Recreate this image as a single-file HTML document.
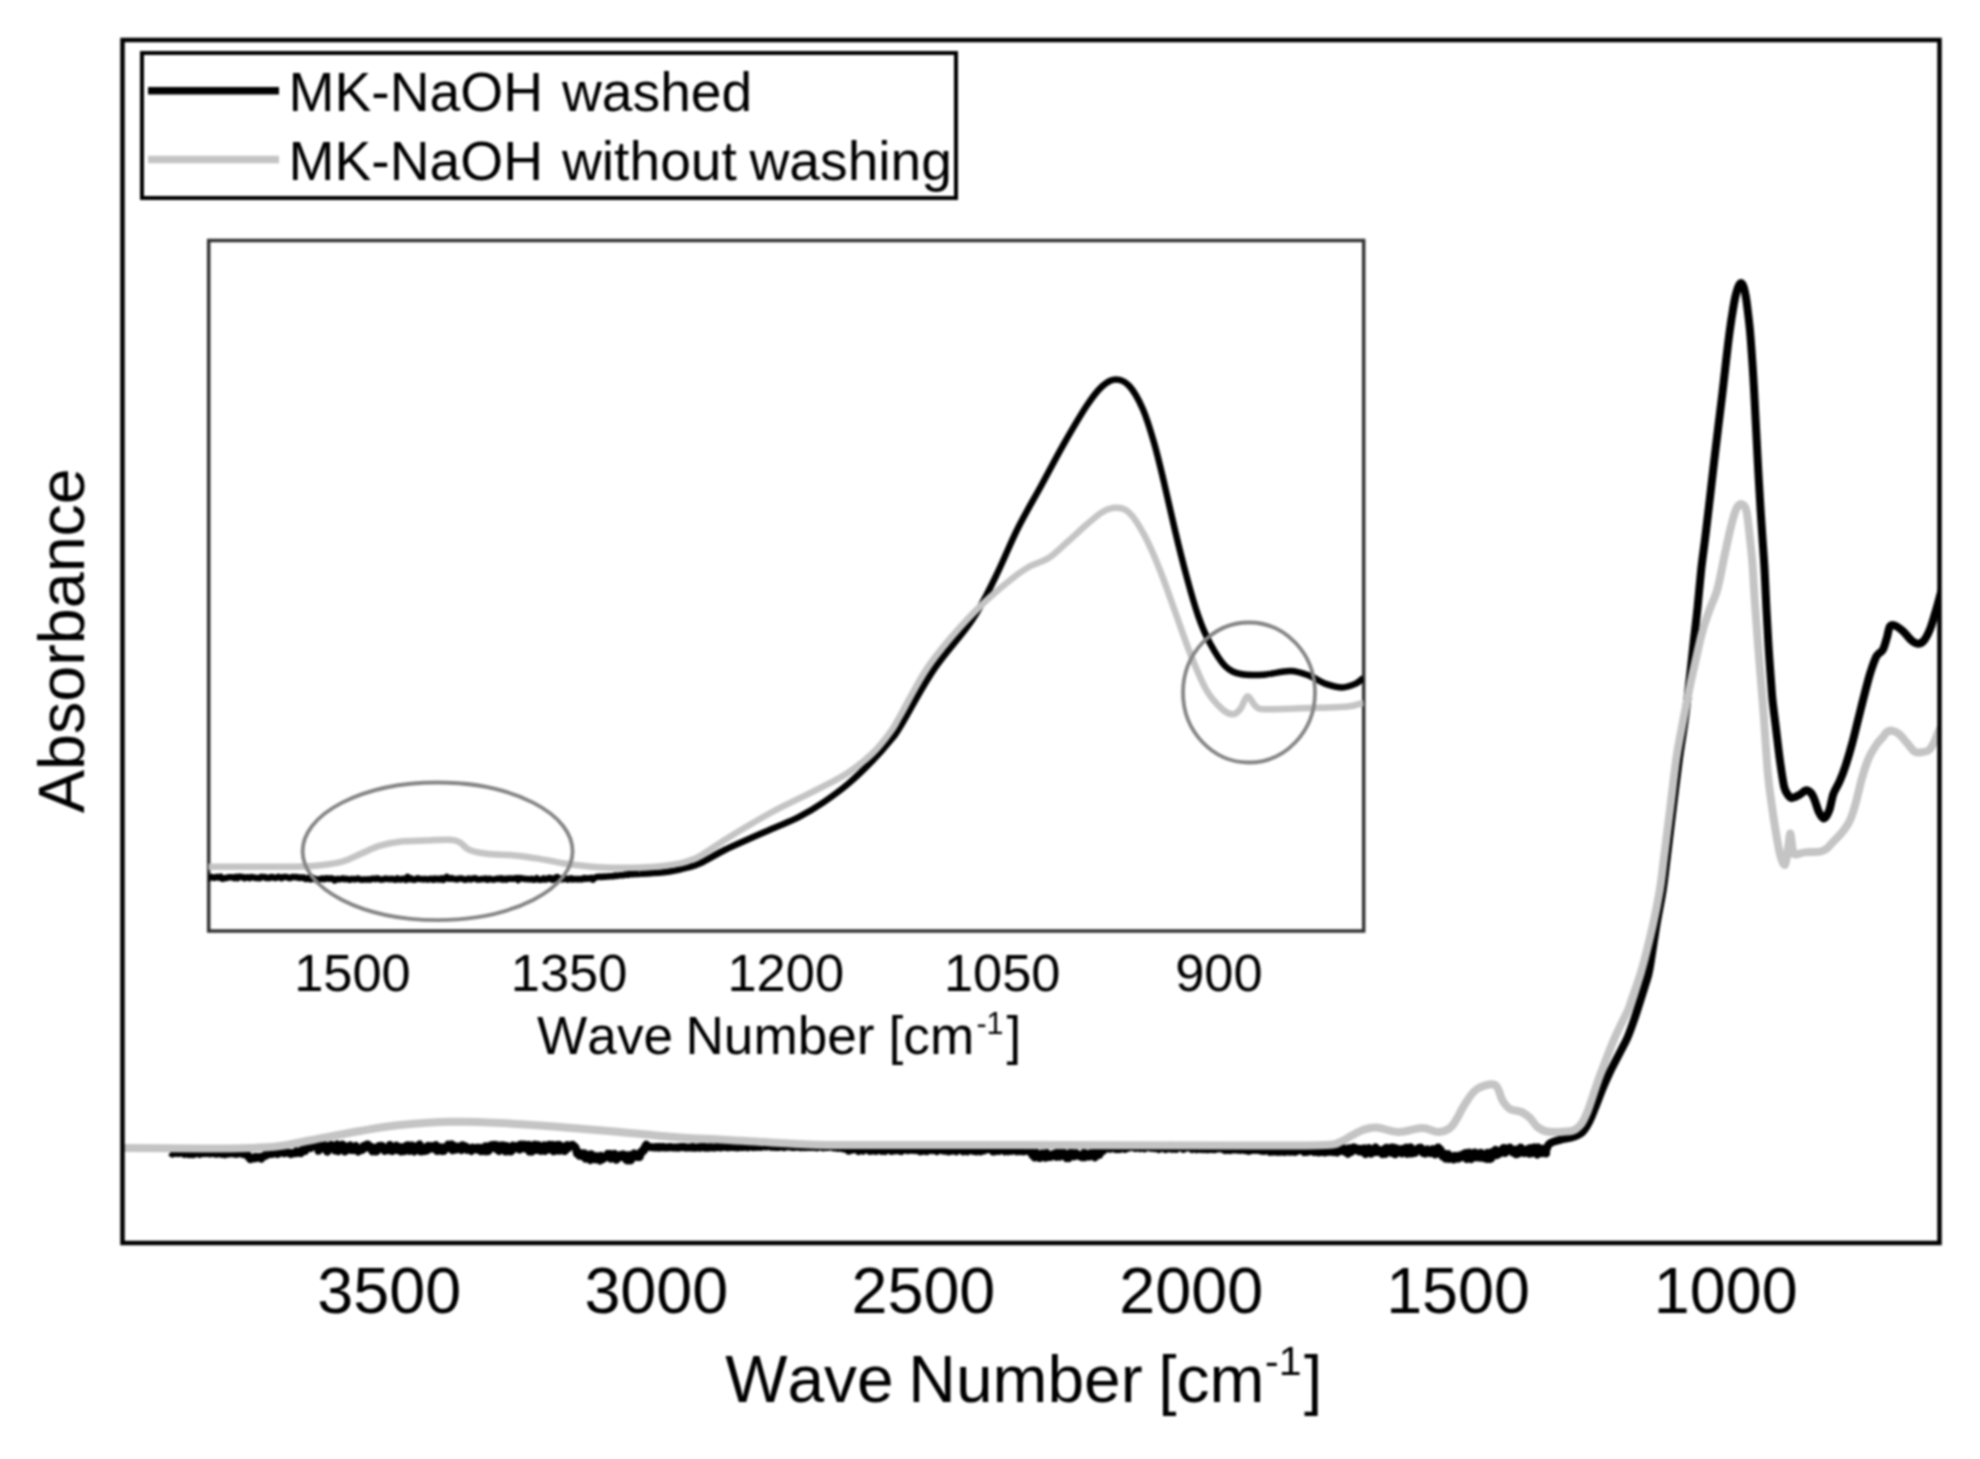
<!DOCTYPE html>
<html><head><meta charset="utf-8"><title>FTIR</title>
<style>html,body{margin:0;padding:0;background:#fff}svg{display:block;filter:blur(1px)}text{font-kerning:none;font-variant-ligatures:none}</style></head>
<body>
<svg width="1980" height="1459" viewBox="0 0 1980 1459">
<rect width="1980" height="1459" fill="#fff"/>
<defs><clipPath id="mc"><rect x="122.5" y="40" width="1817" height="1203"/></clipPath><clipPath id="ic"><rect x="208.5" y="240.5" width="1155" height="689.5"/></clipPath></defs>
<g clip-path="url(#mc)" fill="none" stroke-linejoin="round" stroke-linecap="butt">
<path d="M170.0,1152.6L171.1,1152.2L172.2,1153.4L173.3,1152.0L174.4,1153.1L175.5,1152.7L176.6,1151.9L177.7,1153.0L178.8,1151.9L179.9,1152.8L181.0,1152.0L182.1,1152.0L183.2,1152.8L184.3,1153.8L185.4,1152.1L186.5,1152.3L187.6,1153.3L188.7,1154.1L189.8,1153.2L190.9,1152.8L192.0,1154.1L193.1,1151.9L194.2,1153.9L195.3,1152.5L196.4,1152.1L197.5,1152.1L198.6,1152.5L199.7,1153.8L200.8,1152.2L201.9,1153.2L203.0,1153.3L204.1,1152.7L205.2,1153.1L206.3,1152.0L207.4,1151.9L208.5,1152.3L209.6,1153.4L210.7,1152.8L211.8,1152.6L212.9,1153.2L214.0,1152.9L215.1,1152.5L216.2,1153.7L217.3,1153.5L218.4,1152.4L219.5,1153.2L220.6,1153.1L221.7,1153.9L222.8,1153.6L223.9,1152.5L225.0,1154.2L226.1,1152.1L227.2,1152.8L228.3,1153.6L229.4,1152.2L230.5,1153.0L231.6,1151.9L232.7,1153.4L233.8,1153.6L234.9,1153.2L236.0,1153.9L237.1,1152.6L238.2,1153.5L239.3,1153.2L240.4,1153.2L241.5,1152.9L242.6,1153.8L243.7,1154.1L244.8,1152.9L245.9,1154.3L247.0,1153.9L248.1,1156.6L249.2,1157.6L250.3,1159.2L251.4,1158.8L252.5,1157.5L253.6,1157.7L254.7,1158.4L255.8,1156.9L256.9,1157.9L258.0,1157.2L259.1,1157.1L260.2,1156.9L261.3,1158.6L262.4,1156.8L263.5,1156.1L264.6,1155.6L265.7,1155.8L266.8,1153.0L267.9,1153.0L269.0,1153.1L270.1,1153.9L271.2,1153.8L272.3,1153.9L273.4,1152.5L274.5,1152.8L275.6,1152.7L276.7,1153.9L277.8,1154.1L278.9,1152.2L280.0,1152.2L281.1,1152.4L282.2,1152.4L283.3,1153.0L284.4,1153.2L285.5,1152.4L286.6,1151.8L287.7,1152.8L288.8,1152.7L289.9,1153.2L291.0,1154.1L292.1,1153.5L293.2,1153.0L294.3,1153.3L295.4,1153.3L296.5,1151.3L297.6,1152.9L298.7,1152.2L299.8,1152.0L300.9,1153.0L302.0,1149.9L303.1,1149.7L304.2,1147.4L305.3,1151.0L306.4,1146.7L307.5,1146.6L308.6,1147.4L309.7,1146.9L310.8,1147.9L311.9,1145.7L313.0,1145.1L314.1,1146.0L315.2,1145.4L316.3,1147.1L317.4,1144.6L318.5,1150.7L319.6,1148.8L320.7,1145.5L321.8,1146.2L322.9,1146.9L324.0,1147.0L325.1,1145.3L326.2,1150.5L327.3,1151.6L328.4,1147.8L329.5,1147.9L330.6,1145.0L331.7,1145.1L332.8,1146.9L333.9,1146.3L335.0,1150.4L336.1,1145.6L337.2,1144.6L338.3,1151.2L339.4,1148.2L340.5,1145.5L341.6,1148.3L342.7,1144.6L343.8,1148.2L344.9,1151.4L346.0,1150.6L347.1,1149.4L348.2,1146.3L349.3,1147.0L350.4,1145.6L351.5,1150.0L352.6,1148.2L353.7,1150.0L354.8,1146.8L355.9,1146.0L357.0,1150.2L358.1,1151.5L359.2,1150.5L360.3,1150.2L361.4,1150.3L362.5,1149.7L363.6,1146.0L364.7,1148.1L365.8,1147.0L366.9,1144.6L368.0,1144.6L369.1,1146.4L370.2,1146.3L371.3,1149.4L372.4,1151.3L373.5,1147.6L374.6,1151.1L375.7,1151.5L376.8,1151.3L377.9,1147.0L379.0,1146.0L380.1,1146.0L381.2,1145.8L382.3,1145.9L383.4,1148.9L384.5,1150.9L385.6,1150.5L386.7,1147.9L387.8,1149.1L388.9,1150.2L390.0,1145.0L391.1,1149.2L392.2,1151.0L393.3,1150.0L394.4,1149.8L395.5,1147.8L396.6,1145.7L397.7,1150.1L398.8,1146.8L399.9,1150.2L401.0,1151.4L402.1,1147.3L403.2,1147.3L404.3,1151.2L405.4,1149.6L406.5,1145.6L407.6,1145.3L408.7,1145.5L409.8,1150.9L410.9,1150.2L412.0,1145.5L413.1,1150.4L414.2,1151.5L415.3,1149.1L416.4,1146.9L417.5,1148.4L418.6,1145.3L419.7,1144.5L420.8,1151.4L421.9,1149.1L423.0,1148.2L424.1,1151.1L425.2,1147.5L426.3,1150.7L427.4,1150.3L428.5,1145.9L429.6,1146.2L430.7,1146.5L431.8,1146.1L432.9,1148.6L434.0,1146.3L435.1,1147.4L436.2,1145.3L437.3,1151.0L438.4,1146.9L439.5,1147.7L440.6,1148.6L441.7,1150.9L442.8,1147.4L443.9,1151.0L445.0,1148.0L446.1,1148.2L447.2,1148.2L448.3,1144.5L449.4,1147.6L450.5,1145.7L451.6,1144.4L452.7,1150.2L453.8,1145.6L454.9,1147.8L456.0,1149.6L457.1,1148.4L458.2,1146.7L459.3,1148.1L460.4,1148.4L461.5,1150.0L462.6,1145.2L463.7,1148.4L464.8,1146.2L465.9,1146.4L467.0,1150.0L468.1,1148.1L469.2,1148.4L470.3,1149.9L471.4,1151.0L472.5,1147.6L473.6,1148.8L474.7,1148.0L475.8,1148.1L476.9,1149.4L478.0,1147.7L479.1,1148.2L480.2,1147.8L481.3,1151.2L482.4,1149.4L483.5,1150.7L484.6,1151.2L485.7,1146.3L486.8,1148.4L487.9,1151.2L489.0,1150.4L490.1,1145.4L491.2,1145.3L492.3,1147.6L493.4,1144.9L494.5,1146.1L495.6,1144.9L496.7,1149.2L497.8,1150.0L498.9,1150.9L500.0,1145.5L501.1,1149.6L502.2,1149.2L503.3,1145.4L504.4,1150.8L505.5,1151.4L506.6,1146.0L507.7,1151.3L508.8,1147.3L509.9,1147.9L511.0,1151.5L512.1,1150.4L513.2,1145.6L514.3,1147.5L515.4,1148.1L516.5,1146.8L517.6,1145.8L518.7,1146.7L519.8,1149.6L520.9,1144.5L522.0,1148.4L523.1,1147.6L524.2,1144.5L525.3,1146.8L526.4,1148.9L527.5,1148.1L528.6,1144.9L529.7,1151.5L530.8,1150.1L531.9,1151.4L533.0,1145.2L534.1,1146.3L535.2,1144.7L536.3,1150.0L537.4,1146.3L538.5,1145.3L539.6,1147.4L540.7,1151.0L541.8,1150.3L542.9,1146.3L544.0,1145.5L545.1,1151.0L546.2,1148.5L547.3,1149.4L548.4,1145.0L549.5,1144.8L550.6,1149.4L551.7,1147.5L552.8,1144.9L553.9,1151.2L555.0,1149.0L556.1,1150.2L557.2,1145.0L558.3,1150.6L559.4,1144.9L560.5,1150.6L561.6,1147.7L562.7,1146.8L563.8,1148.4L564.9,1151.1L566.0,1146.3L567.1,1145.3L568.2,1148.2L569.3,1146.1L570.4,1145.2L571.5,1145.6L572.6,1144.8L573.7,1145.9L574.8,1146.6L575.9,1148.2L577.0,1153.5L578.1,1152.1L579.2,1155.6L580.3,1154.7L581.4,1155.9L582.5,1153.5L583.6,1155.2L584.7,1153.5L585.8,1158.7L586.9,1157.4L588.0,1154.8L589.1,1156.8L590.2,1160.1L591.3,1154.2L592.4,1159.3L593.5,1156.5L594.6,1157.0L595.7,1159.4L596.8,1156.2L597.9,1157.0L599.0,1158.4L600.1,1160.5L601.2,1155.9L602.3,1159.4L603.4,1158.5L604.5,1158.0L605.6,1156.3L606.7,1155.9L607.8,1153.8L608.9,1154.3L610.0,1153.9L611.1,1158.7L612.2,1155.2L613.3,1154.6L614.4,1154.0L615.5,1159.5L616.6,1159.7L617.7,1158.2L618.8,1155.4L619.9,1155.1L621.0,1155.5L622.1,1156.7L623.2,1154.5L624.3,1156.6L625.4,1155.3L626.5,1160.3L627.6,1160.4L628.7,1157.3L629.8,1155.2L630.9,1160.4L632.0,1155.6L633.1,1156.0L634.2,1153.4L635.3,1156.1L636.4,1156.8L637.5,1157.0L638.6,1154.8L639.7,1157.0L640.8,1152.3L641.9,1152.6L643.0,1149.8L644.1,1150.4L645.2,1146.3L646.3,1144.6L647.4,1146.8L648.5,1146.7L649.6,1147.1L650.7,1147.1L651.8,1147.3L652.9,1147.2L654.0,1147.3L655.1,1147.5L656.2,1147.0L657.3,1146.9L658.4,1147.6L659.5,1146.8L660.6,1147.4L661.7,1147.3L662.8,1146.7L663.9,1147.5L665.0,1147.6L666.1,1147.3L667.2,1147.4L668.3,1147.5L669.4,1146.9L670.5,1147.2L671.6,1147.2L672.7,1147.6L673.8,1147.6L674.9,1147.6L676.0,1147.4L677.1,1147.7L678.2,1147.5L679.3,1147.5L680.4,1147.0L681.5,1146.9L682.6,1147.0L683.7,1147.2L684.8,1147.0L685.9,1147.7L687.0,1147.4L688.1,1147.5L689.2,1147.5L690.3,1147.6L691.4,1147.4L692.5,1146.9L693.6,1147.7L694.7,1147.7L695.8,1147.5L696.9,1147.5L698.0,1147.6L699.1,1147.1L700.2,1147.7L701.3,1147.2L702.4,1147.0L703.5,1147.2L704.6,1147.7L705.7,1147.1L706.8,1147.6L707.9,1147.8L709.0,1147.3L710.1,1147.2L711.2,1147.3L712.3,1147.5L713.4,1147.5L714.5,1147.4L715.6,1147.4L716.7,1146.8L717.8,1146.9L718.9,1146.9L720.0,1147.4L721.1,1147.0L722.2,1147.2L723.3,1146.6L724.4,1146.7L725.5,1146.8L726.6,1147.2L727.7,1147.2L728.8,1147.2L729.9,1146.8L731.0,1147.0L732.1,1146.9L733.2,1146.9L734.3,1146.5L735.4,1147.3L736.5,1146.6L737.6,1147.4L738.7,1147.3L739.8,1146.4L740.9,1146.8L742.0,1147.1L743.1,1147.2L744.2,1146.7L745.3,1146.5L746.4,1146.4L747.5,1147.2L748.6,1146.4L749.7,1146.8L750.8,1146.3L751.9,1146.7L753.0,1147.1L754.1,1146.2L755.2,1146.9L756.3,1146.6L757.4,1146.9L758.5,1146.7L759.6,1146.2L760.7,1146.9L761.8,1146.5L762.9,1146.0L764.0,1146.0L765.1,1146.5L766.2,1146.5L767.3,1146.3L768.4,1146.2L769.5,1146.4L770.6,1146.4L771.7,1146.9L772.8,1146.1L773.9,1146.8L775.0,1146.9L776.1,1146.2L777.2,1147.0L778.3,1146.8L779.4,1147.0L780.5,1146.4L781.6,1146.5L782.7,1146.5L783.8,1147.2L784.9,1146.8L786.0,1146.5L787.1,1146.6L788.2,1146.5L789.3,1146.2L790.4,1146.3L791.5,1147.0L792.6,1146.5L793.7,1147.2L794.8,1146.5L795.9,1146.5L797.0,1146.8L798.1,1146.4L799.2,1146.6L800.3,1147.2L801.4,1147.2L802.5,1147.1L803.6,1146.9L804.7,1147.2L805.8,1147.2L806.9,1146.9L808.0,1147.0L809.1,1146.4L810.2,1147.1L811.3,1146.8L812.4,1147.1L813.5,1147.0L814.6,1146.6L815.7,1146.4L816.8,1147.3L817.9,1146.5L819.0,1146.9L820.1,1146.7L821.2,1146.7L822.3,1147.1L823.4,1147.4L824.5,1146.7L825.6,1147.1L826.7,1146.7L827.8,1147.0L828.9,1146.8L830.0,1146.6L831.1,1146.6L832.2,1146.7L833.3,1147.4L834.4,1147.0L835.5,1146.7L836.6,1147.6L837.7,1148.0L838.8,1147.7L839.9,1147.7L841.0,1147.4L842.1,1147.4L843.2,1148.5L844.3,1148.0L845.4,1148.7L846.5,1148.7L847.6,1149.7L848.7,1150.7L849.8,1150.3L850.9,1149.2L852.0,1149.2L853.1,1149.6L854.2,1149.1L855.3,1149.0L856.4,1148.1L857.5,1148.8L858.6,1151.0L859.7,1148.3L860.8,1149.6L861.9,1150.0L863.0,1150.7L864.1,1148.6L865.2,1148.8L866.3,1148.8L867.4,1149.2L868.5,1149.4L869.6,1151.0L870.7,1150.7L871.8,1150.8L872.9,1148.0L874.0,1148.1L875.1,1150.3L876.2,1150.9L877.3,1149.5L878.4,1149.9L879.5,1148.0L880.6,1149.2L881.7,1151.0L882.8,1150.6L883.9,1150.7L885.0,1151.1L886.1,1148.8L887.2,1148.4L888.3,1148.5L889.4,1149.7L890.5,1150.2L891.6,1151.0L892.7,1150.3L893.8,1150.1L894.9,1150.5L896.0,1149.5L897.1,1149.8L898.2,1148.2L899.3,1150.6L900.4,1148.8L901.5,1151.0L902.6,1150.1L903.7,1149.0L904.8,1148.5L905.9,1148.9L907.0,1150.1L908.1,1150.3L909.2,1148.4L910.3,1148.3L911.4,1149.8L912.5,1149.9L913.6,1149.3L914.7,1148.8L915.8,1150.0L916.9,1148.1L918.0,1149.1L919.1,1149.6L920.2,1151.2L921.3,1150.2L922.4,1150.9L923.5,1149.6L924.6,1148.9L925.7,1148.9L926.8,1151.2L927.9,1150.4L929.0,1149.1L930.1,1148.2L931.2,1149.7L932.3,1150.3L933.4,1149.5L934.5,1149.0L935.6,1150.3L936.7,1151.1L937.8,1148.9L938.9,1148.3L940.0,1149.2L941.1,1149.5L942.2,1150.3L943.3,1148.8L944.4,1150.7L945.5,1150.5L946.6,1149.8L947.7,1148.8L948.8,1151.3L949.9,1149.2L951.0,1150.8L952.1,1148.9L953.2,1148.9L954.3,1150.6L955.4,1149.1L956.5,1151.2L957.6,1149.8L958.7,1148.8L959.8,1148.9L960.9,1149.5L962.0,1150.3L963.1,1151.3L964.2,1148.7L965.3,1149.5L966.4,1148.9L967.5,1151.3L968.6,1148.7L969.7,1148.4L970.8,1148.4L971.9,1149.5L973.0,1151.1L974.1,1151.1L975.2,1150.6L976.3,1151.4L977.4,1151.2L978.5,1149.3L979.6,1148.9L980.7,1151.3L981.8,1150.7L982.9,1148.4L984.0,1150.4L985.1,1149.5L986.2,1149.5L987.3,1149.3L988.4,1148.8L989.5,1148.3L990.6,1149.2L991.7,1149.4L992.8,1151.4L993.9,1148.7L995.0,1151.4L996.1,1149.0L997.2,1149.5L998.3,1150.9L999.4,1150.9L1000.5,1149.7L1001.6,1148.5L1002.7,1149.8L1003.8,1149.5L1004.9,1151.3L1006.0,1149.0L1007.1,1149.5L1008.2,1151.2L1009.3,1148.4L1010.4,1149.7L1011.5,1150.9L1012.6,1150.8L1013.7,1148.5L1014.8,1148.5L1015.9,1148.6L1017.0,1151.3L1018.1,1149.2L1019.2,1150.8L1020.3,1151.2L1021.4,1149.5L1022.5,1149.3L1023.6,1151.4L1024.7,1150.4L1025.8,1149.2L1026.9,1150.7L1028.0,1149.4L1029.1,1149.3L1030.2,1147.0L1031.3,1152.9L1032.4,1155.1L1033.5,1154.4L1034.6,1157.4L1035.7,1152.0L1036.8,1153.3L1037.9,1154.8L1039.0,1157.9L1040.1,1157.9L1041.2,1154.3L1042.3,1153.4L1043.4,1154.6L1044.5,1155.0L1045.6,1157.7L1046.7,1153.0L1047.8,1156.9L1048.9,1156.5L1050.0,1157.1L1051.1,1156.7L1052.2,1155.7L1053.3,1153.9L1054.4,1153.8L1055.5,1154.1L1056.6,1156.8L1057.7,1152.3L1058.8,1153.1L1059.9,1156.6L1061.0,1153.4L1062.1,1152.2L1063.2,1152.0L1064.3,1155.3L1065.4,1153.9L1066.5,1158.1L1067.6,1157.5L1068.7,1158.1L1069.8,1153.5L1070.9,1152.3L1072.0,1152.4L1073.1,1155.0L1074.2,1156.3L1075.3,1154.7L1076.4,1153.3L1077.5,1154.5L1078.6,1155.8L1079.7,1156.1L1080.8,1156.6L1081.9,1157.2L1083.0,1156.1L1084.1,1152.6L1085.2,1157.2L1086.3,1153.7L1087.4,1155.4L1088.5,1154.2L1089.6,1156.5L1090.7,1153.1L1091.8,1153.4L1092.9,1153.4L1094.0,1152.8L1095.1,1157.4L1096.2,1154.6L1097.3,1152.2L1098.4,1151.8L1099.5,1154.8L1100.6,1150.8L1101.7,1148.3L1102.8,1151.1L1103.9,1149.3L1105.0,1149.1L1106.1,1146.2L1107.2,1147.4L1108.3,1148.5L1109.4,1148.6L1110.5,1148.8L1111.6,1146.0L1112.7,1146.8L1113.8,1146.3L1114.9,1146.5L1116.0,1149.0L1117.1,1147.8L1118.2,1148.9L1119.3,1147.1L1120.4,1148.7L1121.5,1147.3L1122.6,1146.7L1123.7,1148.4L1124.8,1148.9L1125.9,1146.2L1127.0,1147.8L1128.1,1147.9L1129.2,1146.6L1130.3,1147.1L1131.4,1146.4L1132.5,1146.6L1133.6,1146.7L1134.7,1147.8L1135.8,1148.0L1136.9,1146.6L1138.0,1145.9L1139.1,1146.9L1140.2,1148.1L1141.3,1146.5L1142.4,1146.9L1143.5,1146.6L1144.6,1148.4L1145.7,1147.7L1146.8,1146.1L1147.9,1146.2L1149.0,1147.2L1150.1,1147.7L1151.2,1147.9L1152.3,1146.2L1153.4,1146.4L1154.5,1148.1L1155.6,1147.2L1156.7,1146.8L1157.8,1146.9L1158.9,1149.0L1160.0,1146.9L1161.1,1147.7L1162.2,1147.0L1163.3,1147.2L1164.4,1148.7L1165.5,1149.1L1166.6,1147.1L1167.7,1146.5L1168.8,1148.2L1169.9,1146.6L1171.0,1145.9L1172.1,1148.8L1173.2,1147.3L1174.3,1148.5L1175.4,1147.2L1176.5,1148.7L1177.6,1147.4L1178.7,1146.4L1179.8,1145.9L1180.9,1147.7L1182.0,1148.0L1183.1,1148.8L1184.2,1146.2L1185.3,1147.9L1186.4,1147.1L1187.5,1147.5L1188.6,1146.4L1189.7,1146.8L1190.8,1147.6L1191.9,1148.9L1193.0,1146.2L1194.1,1147.5L1195.2,1148.5L1196.3,1149.0L1197.4,1146.5L1198.5,1146.3L1199.6,1148.9L1200.7,1149.1L1201.8,1147.5L1202.9,1146.2L1204.0,1149.1L1205.1,1147.4L1206.2,1149.1L1207.3,1148.3L1208.4,1149.0L1209.5,1146.9L1210.6,1148.9L1211.7,1147.2L1212.8,1147.8L1213.9,1149.3L1215.0,1149.3L1216.1,1147.3L1217.2,1147.5L1218.3,1148.1L1219.4,1148.5L1220.5,1148.2L1221.6,1147.4L1222.7,1147.8L1223.8,1149.4L1224.9,1150.0L1226.0,1147.3L1227.1,1149.1L1228.2,1149.7L1229.3,1147.5L1230.4,1150.1L1231.5,1147.9L1232.6,1149.4L1233.7,1149.3L1234.8,1149.6L1235.9,1148.7L1237.0,1149.1L1238.1,1149.7L1239.2,1149.2L1240.3,1150.0L1241.4,1149.4L1242.5,1149.4L1243.6,1148.2L1244.7,1150.1L1245.8,1149.8L1246.9,1149.0L1248.0,1150.7L1249.1,1150.9L1250.2,1149.9L1251.3,1149.0L1252.4,1149.9L1253.5,1148.8L1254.6,1148.9L1255.7,1149.8L1256.8,1148.8L1257.9,1149.9L1259.0,1150.1L1260.1,1148.6L1261.2,1150.6L1262.3,1148.8L1263.4,1150.9L1264.5,1151.0L1265.6,1150.2L1266.7,1148.8L1267.8,1150.2L1268.9,1149.8L1270.0,1151.7L1271.1,1149.1L1272.2,1151.4L1273.3,1151.8L1274.4,1151.0L1275.5,1151.3L1276.6,1149.3L1277.7,1151.8L1278.8,1150.3L1279.9,1151.8L1281.0,1151.7L1282.1,1149.3L1283.2,1151.3L1284.3,1151.8L1285.4,1149.0L1286.5,1149.9L1287.6,1151.2L1288.7,1149.3L1289.8,1151.7L1290.9,1149.7L1292.0,1151.5L1293.1,1149.3L1294.2,1150.5L1295.3,1151.8L1296.4,1149.6L1297.5,1149.8L1298.6,1150.6L1299.7,1150.0L1300.8,1149.1L1301.9,1149.6L1303.0,1149.5L1304.1,1152.0L1305.2,1151.2L1306.3,1151.9L1307.4,1149.6L1308.5,1151.6L1309.6,1149.4L1310.7,1150.8L1311.8,1151.1L1312.9,1150.3L1314.0,1151.9L1315.1,1150.9L1316.2,1151.0L1317.3,1152.0L1318.4,1149.5L1319.5,1152.3L1320.6,1151.2L1321.7,1150.5L1322.8,1151.8L1323.9,1150.1L1325.0,1152.4L1326.1,1151.1L1327.2,1150.4L1328.3,1151.7L1329.4,1150.7L1330.5,1149.9L1331.6,1151.7L1332.7,1149.5L1333.8,1152.0L1334.9,1150.2L1336.0,1151.4L1337.1,1152.5L1338.2,1151.3L1339.3,1151.5L1340.4,1149.7L1341.5,1147.4L1342.6,1147.6L1343.7,1148.5L1344.8,1151.8L1345.9,1150.5L1347.0,1151.1L1348.1,1153.8L1349.2,1148.4L1350.3,1149.0L1351.4,1152.1L1352.5,1147.6L1353.6,1147.4L1354.7,1150.0L1355.8,1148.2L1356.9,1150.0L1358.0,1149.0L1359.1,1151.6L1360.2,1151.6L1361.3,1148.9L1362.4,1151.9L1363.5,1150.8L1364.6,1148.4L1365.7,1154.1L1366.8,1149.2L1367.9,1148.5L1369.0,1148.1L1370.1,1152.0L1371.2,1153.7L1372.3,1153.0L1373.4,1150.3L1374.5,1149.3L1375.6,1147.5L1376.7,1152.0L1377.8,1151.4L1378.9,1149.9L1380.0,1152.0L1381.1,1150.6L1382.2,1154.1L1383.3,1152.7L1384.4,1149.2L1385.5,1153.9L1386.6,1147.7L1387.7,1151.2L1388.8,1150.3L1389.9,1149.1L1391.0,1147.8L1392.1,1153.0L1393.2,1147.5L1394.3,1151.4L1395.4,1154.2L1396.5,1148.4L1397.6,1148.8L1398.7,1151.8L1399.8,1151.1L1400.9,1152.0L1402.0,1153.3L1403.1,1148.7L1404.2,1149.6L1405.3,1149.6L1406.4,1147.7L1407.5,1153.8L1408.6,1153.0L1409.7,1152.6L1410.8,1147.4L1411.9,1153.5L1413.0,1152.8L1414.1,1150.7L1415.2,1152.7L1416.3,1150.7L1417.4,1149.0L1418.5,1148.2L1419.6,1149.1L1420.7,1147.7L1421.8,1149.8L1422.9,1152.8L1424.0,1152.4L1425.1,1153.5L1426.2,1152.5L1427.3,1149.3L1428.4,1151.4L1429.5,1150.5L1430.6,1153.1L1431.7,1151.2L1432.8,1149.3L1433.9,1152.0L1435.0,1154.3L1436.1,1149.0L1437.2,1153.7L1438.3,1147.5L1439.4,1149.3L1440.5,1149.5L1441.6,1154.1L1442.7,1156.5L1443.8,1155.9L1444.9,1153.8L1446.0,1158.7L1447.1,1154.8L1448.2,1154.1L1449.3,1158.9L1450.4,1156.9L1451.5,1157.4L1452.6,1157.2L1453.7,1159.4L1454.8,1155.8L1455.9,1158.4L1457.0,1157.4L1458.1,1158.6L1459.2,1155.5L1460.3,1157.6L1461.4,1156.5L1462.5,1154.6L1463.6,1153.9L1464.7,1156.9L1465.8,1153.0L1466.9,1159.0L1468.0,1153.4L1469.1,1152.6L1470.2,1153.2L1471.3,1159.1L1472.4,1154.9L1473.5,1153.4L1474.6,1152.6L1475.7,1152.7L1476.8,1157.4L1477.9,1157.0L1479.0,1157.4L1480.1,1157.7L1481.2,1152.9L1482.3,1156.7L1483.4,1155.0L1484.5,1158.3L1485.6,1158.3L1486.7,1158.8L1487.8,1152.9L1488.9,1158.6L1490.0,1159.0L1491.1,1158.6L1492.2,1152.1L1493.3,1152.2L1494.4,1151.0L1495.5,1149.9L1496.6,1155.2L1497.7,1154.4L1498.8,1152.6L1499.9,1153.4L1501.0,1151.9L1502.1,1149.5L1503.2,1148.1L1504.3,1148.1L1505.4,1152.9L1506.5,1148.9L1507.6,1149.7L1508.7,1150.5L1509.8,1147.6L1510.9,1149.2L1512.0,1149.4L1513.1,1152.6L1514.2,1150.0L1515.3,1149.7L1516.4,1154.3L1517.5,1151.0L1518.6,1153.5L1519.7,1151.9L1520.8,1147.6L1521.9,1150.4L1523.0,1150.5L1524.1,1153.0L1525.2,1149.9L1526.3,1152.5L1527.4,1151.3L1528.5,1149.0L1529.6,1153.6L1530.7,1148.1L1531.8,1153.3L1532.9,1148.6L1534.0,1147.4L1535.1,1148.9L1536.2,1152.9L1537.3,1154.4L1538.4,1147.4L1539.5,1150.9L1540.6,1150.9L1541.7,1153.1L1542.8,1148.7L1543.9,1151.0L1545.0,1149.9L1546.1,1153.4L1546.0,1151.0" stroke="#000" stroke-width="8.0"/>
<path d="M1546.0,1151.0C1546.6,1149.8 1547.2,1145.5 1549.6,1143.6C1552.0,1141.7 1556.2,1140.9 1560.2,1139.8C1564.2,1138.7 1569.9,1138.2 1573.7,1136.8C1577.5,1135.4 1580.2,1134.2 1582.8,1131.6C1585.4,1129.0 1587.6,1124.9 1589.6,1121.0C1591.6,1117.1 1592.9,1113.2 1595.0,1108.0C1597.1,1102.8 1599.8,1095.5 1602.0,1090.0C1604.2,1084.5 1606.3,1079.7 1608.5,1075.0C1610.7,1070.3 1612.8,1066.2 1615.0,1062.0C1617.2,1057.8 1619.4,1053.6 1621.5,1049.5C1623.6,1045.4 1625.4,1042.4 1627.5,1037.5C1629.6,1032.6 1631.9,1026.1 1634.0,1020.0C1636.1,1013.9 1638.3,1007.0 1640.2,1001.0C1642.1,995.0 1644.0,989.3 1645.5,984.0C1647.0,978.7 1647.7,978.9 1649.5,969.0C1651.3,959.1 1654.3,937.8 1656.5,924.6C1658.7,911.4 1661.0,901.4 1662.7,890.0C1664.5,878.6 1665.3,869.7 1667.0,856.0C1668.7,842.3 1670.8,824.0 1672.8,808.0C1674.8,792.0 1677.1,772.7 1678.8,760.0C1680.5,747.3 1681.6,741.6 1683.0,732.0C1684.4,722.4 1685.8,712.4 1687.0,702.4C1688.2,692.4 1689.3,682.4 1690.5,672.0C1691.7,661.6 1692.7,650.6 1693.9,640.0C1695.1,629.4 1696.3,619.7 1697.5,608.1C1698.7,596.5 1699.9,581.8 1701.1,570.5C1702.3,559.2 1703.6,551.0 1704.9,540.3C1706.2,529.5 1707.4,519.4 1709.0,506.0C1710.6,492.6 1712.0,478.9 1714.3,460.0C1716.5,441.1 1720.5,409.1 1722.5,392.4C1724.5,375.7 1725.0,370.1 1726.2,360.0C1727.4,349.9 1728.5,340.0 1729.6,332.0C1730.7,324.0 1731.6,317.8 1732.6,312.0C1733.5,306.2 1734.4,301.0 1735.3,297.0C1736.2,293.0 1737.1,290.1 1737.8,288.0C1738.5,285.9 1739.0,285.1 1739.5,284.3C1740.0,283.5 1740.5,283.0 1741.0,283.0C1741.5,283.0 1742.0,283.5 1742.5,284.3C1743.0,285.1 1743.4,285.9 1744.0,288.0C1744.6,290.1 1745.2,293.0 1745.9,297.0C1746.6,301.0 1747.2,306.2 1747.9,312.0C1748.6,317.8 1749.4,324.0 1750.1,332.0C1750.8,340.0 1751.5,349.9 1752.2,360.0C1752.9,370.1 1753.3,375.7 1754.2,392.4C1755.1,409.1 1756.9,445.4 1757.7,460.0C1758.5,474.6 1758.3,471.6 1758.8,480.0C1759.3,488.4 1760.0,500.1 1760.6,510.2C1761.2,520.2 1761.9,530.2 1762.6,540.3C1763.3,550.3 1764.0,559.2 1764.6,570.5C1765.2,581.8 1765.8,595.6 1766.4,608.1C1767.1,620.6 1767.7,633.2 1768.5,645.8C1769.3,658.4 1770.5,674.5 1771.2,683.5C1771.9,692.5 1771.8,693.2 1772.5,700.0C1773.2,706.8 1774.2,714.2 1775.5,724.4C1776.8,734.6 1778.5,750.6 1780.0,761.0C1781.5,771.4 1782.8,781.2 1784.2,787.0C1785.6,792.8 1787.2,793.8 1788.5,795.6C1789.8,797.4 1790.2,798.0 1792.0,797.9C1793.8,797.8 1797.0,796.1 1799.5,794.8C1802.0,793.5 1804.5,790.1 1806.7,790.3C1808.9,790.5 1810.9,792.1 1812.9,795.8C1815.0,799.5 1817.1,808.5 1819.0,812.3C1820.9,816.1 1822.5,818.8 1824.2,818.4C1825.9,818.0 1827.8,814.3 1829.3,810.2C1830.8,806.1 1831.7,798.6 1833.4,793.8C1835.1,789.0 1837.5,786.2 1839.6,781.4C1841.7,776.6 1843.8,771.2 1845.8,765.0C1847.8,758.8 1849.9,751.9 1851.9,744.4C1854.0,736.9 1856.0,728.0 1858.1,719.8C1860.2,711.6 1862.2,703.0 1864.3,695.1C1866.3,687.2 1868.4,679.0 1870.4,672.5C1872.5,666.0 1874.5,659.8 1876.6,656.0C1878.7,652.2 1881.1,653.0 1882.8,649.9C1884.5,646.8 1885.7,641.5 1886.9,637.6C1888.1,633.7 1888.6,628.2 1890.0,626.2C1891.4,624.2 1892.9,624.7 1895.1,625.6C1897.3,626.5 1900.5,628.9 1903.3,631.4C1906.0,633.9 1909.2,638.5 1911.6,640.6C1914.0,642.7 1915.7,643.7 1917.7,643.7C1919.8,643.7 1921.9,643.0 1923.9,640.6C1926.0,638.2 1928.1,633.9 1930.0,629.3C1931.9,624.7 1933.7,618.0 1935.2,612.9C1936.8,607.8 1938.2,602.5 1939.3,598.5C1940.4,594.5 1941.5,590.6 1942.0,589.0" stroke="#000" stroke-width="8.0"/>
<path d="M120.0,1148.0C133.3,1148.1 178.3,1148.5 200.0,1148.5C221.7,1148.5 236.7,1148.4 250.0,1148.0C263.3,1147.6 269.7,1147.3 280.0,1146.0C290.3,1144.7 298.7,1142.5 312.0,1140.0C325.3,1137.5 345.3,1133.5 360.0,1131.0C374.7,1128.5 384.5,1126.5 400.0,1125.0C415.5,1123.5 436.3,1122.1 453.0,1121.8C469.7,1121.5 482.2,1122.1 500.0,1123.0C517.8,1123.9 540.0,1125.5 560.0,1127.0C580.0,1128.5 600.0,1130.2 620.0,1132.0C640.0,1133.8 663.3,1136.2 680.0,1137.5C696.7,1138.8 703.3,1138.6 720.0,1139.5C736.7,1140.4 760.0,1142.1 780.0,1143.0C800.0,1143.9 803.3,1144.7 840.0,1145.0C876.7,1145.3 931.7,1144.9 1000.0,1145.0C1068.3,1145.1 1195.8,1145.5 1250.0,1145.5C1304.2,1145.5 1310.0,1145.6 1325.0,1145.0C1340.0,1144.4 1335.7,1143.5 1340.0,1142.0C1344.3,1140.5 1347.2,1138.0 1351.0,1136.0C1354.8,1134.0 1358.8,1131.4 1363.0,1130.0C1367.2,1128.6 1370.0,1127.2 1376.0,1127.5C1382.0,1127.8 1391.3,1131.9 1399.0,1132.0C1406.7,1132.1 1415.3,1128.0 1422.0,1128.0C1428.7,1128.0 1434.0,1132.3 1439.0,1132.0C1444.0,1131.7 1447.7,1130.7 1452.0,1126.0C1456.3,1121.3 1460.8,1110.2 1465.0,1104.0C1469.2,1097.8 1472.0,1092.2 1477.0,1089.0C1482.0,1085.8 1490.8,1083.1 1495.0,1085.0C1499.2,1086.9 1500.0,1096.5 1502.5,1100.5C1505.0,1104.5 1506.8,1107.1 1510.0,1109.0C1513.2,1110.9 1518.2,1110.5 1521.5,1112.0C1524.8,1113.5 1527.3,1115.5 1530.0,1118.0C1532.7,1120.5 1534.7,1124.8 1537.5,1127.0C1540.3,1129.2 1542.8,1130.7 1546.6,1131.5C1550.4,1132.3 1555.7,1132.1 1560.2,1131.9C1564.7,1131.7 1570.2,1131.6 1573.7,1130.3C1577.2,1129.0 1579.2,1126.5 1581.3,1124.0C1583.3,1121.5 1584.7,1117.8 1586.0,1115.0C1587.3,1112.2 1586.9,1113.6 1589.2,1107.0C1591.5,1100.4 1595.7,1087.0 1600.0,1075.4C1604.3,1063.9 1610.1,1048.6 1614.8,1037.7C1619.5,1026.8 1625.2,1016.3 1628.0,1010.0C1630.8,1003.7 1629.2,1006.8 1631.5,1000.0C1633.8,993.2 1638.3,981.6 1641.9,969.0C1645.5,956.4 1650.0,937.8 1653.0,924.6C1656.0,911.4 1657.9,901.4 1659.8,890.0C1661.7,878.6 1662.5,869.7 1664.2,856.0C1665.9,842.3 1668.2,824.0 1670.2,808.0C1672.2,792.0 1674.3,772.7 1676.1,760.0C1677.9,747.3 1679.2,741.6 1681.0,732.0C1682.8,722.4 1685.0,710.9 1686.7,702.4C1688.4,693.9 1689.5,687.9 1691.0,681.0C1692.5,674.1 1693.6,669.4 1695.5,661.0C1697.4,652.6 1700.1,639.6 1702.6,630.8C1705.0,622.0 1707.9,614.4 1710.2,608.1C1712.5,601.8 1714.6,598.1 1716.2,593.1C1717.8,588.1 1718.5,584.8 1720.0,578.0C1721.5,571.2 1723.3,561.2 1725.2,552.4C1727.1,543.6 1729.4,532.5 1731.3,525.2C1733.2,517.9 1734.8,512.1 1736.5,508.6C1738.2,505.1 1739.9,503.8 1741.5,504.1C1743.1,504.4 1745.0,505.4 1746.3,510.2C1747.6,515.0 1748.3,524.0 1749.3,532.8C1750.3,541.6 1751.5,551.5 1752.4,562.9C1753.3,574.3 1753.9,588.1 1754.8,601.0C1755.7,613.9 1756.7,626.8 1757.7,640.0C1758.7,653.2 1759.9,668.0 1760.9,680.0C1761.9,692.0 1762.3,696.4 1763.5,712.0C1764.7,727.6 1766.5,757.9 1767.9,773.7C1769.3,789.5 1770.6,796.6 1772.0,806.6C1773.4,816.6 1774.8,825.9 1776.2,834.0C1777.6,842.1 1778.8,850.3 1780.3,855.4C1781.8,860.5 1783.8,866.1 1785.1,864.7C1786.4,863.3 1787.3,852.4 1788.2,847.2C1789.1,842.0 1789.6,833.5 1790.3,833.5C1791.0,833.5 1791.6,843.7 1792.3,847.2C1793.0,850.7 1792.3,853.5 1794.4,854.4C1796.5,855.3 1800.4,852.9 1804.7,852.4C1809.0,851.9 1816.3,852.3 1820.0,851.6C1823.7,850.9 1824.8,849.9 1827.0,848.3C1829.2,846.7 1830.5,844.6 1833.0,842.0C1835.5,839.4 1838.9,836.4 1841.7,832.8C1844.5,829.2 1847.5,825.6 1849.9,820.5C1852.3,815.4 1854.0,809.2 1856.0,802.0C1858.0,794.8 1860.1,784.5 1862.2,777.3C1864.3,770.1 1866.0,764.3 1868.4,758.8C1870.8,753.3 1874.2,748.0 1876.6,744.4C1879.0,740.8 1881.1,739.2 1882.8,737.2C1884.5,735.2 1885.4,733.2 1886.9,732.1C1888.4,731.0 1890.0,730.4 1892.0,730.7C1894.0,731.1 1896.6,732.1 1899.2,734.2C1901.8,736.3 1904.8,740.5 1907.4,743.4C1910.0,746.3 1912.2,750.1 1914.6,751.6C1917.0,753.1 1919.4,752.5 1921.8,752.2C1924.2,751.9 1926.9,751.7 1929.0,750.0C1931.1,748.3 1932.9,744.5 1934.2,742.0C1935.5,739.5 1935.9,737.5 1937.0,735.0C1938.1,732.5 1940.3,728.3 1941.0,727.0" stroke="#c4c4c4" stroke-width="8.0"/>
</g>
<rect x="208.7" y="240.5" width="1155" height="690.5" fill="#fff" stroke="#333" stroke-width="3.5"/>
<g clip-path="url(#ic)" fill="none" stroke-linejoin="round">
<path d="M207.0,877.1L208.7,878.3L210.4,877.1L212.1,877.0L213.8,877.9L215.5,877.5L217.2,876.8L218.9,877.7L220.6,876.7L222.3,878.8L224.0,878.4L225.7,878.0L227.4,877.7L229.1,877.2L230.8,877.3L232.5,877.3L234.2,878.2L235.9,876.8L237.6,878.2L239.3,876.6L241.0,877.0L242.7,877.1L244.4,878.2L246.1,877.5L247.8,877.3L249.5,878.2L251.2,877.0L252.9,877.4L254.6,877.6L256.3,878.0L258.0,878.0L259.7,878.2L261.4,876.8L263.1,877.2L264.8,876.9L266.5,878.1L268.2,877.8L269.9,877.9L271.6,876.9L273.3,877.4L275.0,878.0L276.7,877.6L278.4,876.8L280.1,877.4L281.8,878.2L283.5,877.0L285.2,876.9L286.9,877.1L288.6,877.9L290.3,878.1L292.0,877.0L293.7,877.1L295.4,877.3L297.1,877.0L298.8,878.0L300.5,877.4L302.2,877.8L303.9,877.6L305.6,879.1L307.3,878.8L309.0,877.7L310.7,879.4L312.4,877.9L314.1,878.5L315.8,879.7L317.5,879.4L319.2,879.4L320.9,878.9L322.6,878.5L324.3,879.2L326.0,878.3L327.7,878.5L329.4,878.8L331.1,878.2L332.8,878.8L334.5,880.4L336.2,879.3L337.9,879.0L339.6,879.2L341.3,878.9L343.0,878.4L344.7,879.2L346.4,878.8L348.1,879.4L349.8,879.7L351.5,878.9L353.2,879.1L354.9,879.4L356.6,878.9L358.3,878.5L360.0,879.4L361.7,879.7L363.4,879.5L365.1,879.4L366.8,879.6L368.5,879.3L370.2,879.7L371.9,878.8L373.6,878.7L375.3,879.2L377.0,878.3L378.7,878.9L380.4,879.5L382.1,879.4L383.8,879.2L385.5,878.6L387.2,878.9L388.9,878.9L390.6,879.2L392.3,878.8L394.0,879.3L395.7,879.8L397.4,878.4L399.1,879.3L400.8,879.5L402.5,878.8L404.2,879.0L405.9,879.9L407.6,876.8L409.3,879.2L411.0,878.4L412.7,879.5L414.4,879.8L416.1,879.0L417.8,878.3L419.5,879.1L421.2,879.1L422.9,879.4L424.6,879.0L426.3,879.3L428.0,879.6L429.7,879.0L431.4,878.8L433.1,879.8L434.8,878.5L436.5,879.3L438.2,878.8L439.9,879.5L441.6,878.3L443.3,879.9L445.0,878.3L446.7,876.9L448.4,878.6L450.1,878.8L451.8,878.1L453.5,878.9L455.2,878.9L456.9,879.4L458.6,878.7L460.3,878.6L462.0,878.5L463.7,879.4L465.4,879.8L467.1,879.0L468.8,878.5L470.5,879.5L472.2,878.8L473.9,878.5L475.6,878.3L477.3,879.5L479.0,879.6L480.7,879.2L482.4,878.9L484.1,879.1L485.8,878.5L487.5,879.8L489.2,878.7L490.9,879.2L492.6,879.6L494.3,879.6L496.0,878.9L497.7,878.6L499.4,879.1L501.1,878.3L502.8,879.6L504.5,878.7L506.2,879.6L507.9,878.6L509.6,878.8L511.3,878.6L513.0,878.9L514.7,878.4L516.4,878.1L518.1,880.0L519.8,878.0L521.5,878.5L523.2,878.6L524.9,879.0L526.6,878.9L528.3,879.2L530.0,879.3L531.7,878.8L533.4,879.8L535.1,879.6L536.8,878.2L538.5,879.6L540.2,879.7L541.9,879.5L543.6,878.4L545.3,879.6L547.0,879.2L548.7,878.1L550.4,878.1L552.1,879.8L553.8,879.3L555.5,877.8L557.2,877.1L558.9,878.4L560.6,878.5L562.3,879.5L564.0,878.6L565.7,878.3L567.4,879.6L569.1,879.3L570.8,878.2L572.5,879.5L574.2,878.9L575.9,879.2L577.6,879.0L579.3,879.3L581.0,879.1L582.7,879.2L584.4,878.0L586.1,878.8L587.8,878.3L589.5,878.6L591.2,877.9L592.9,879.6L594.6,878.0L596.3,877.1L598.0,876.9L599.7,876.6L601.4,877.1L603.1,876.6L604.8,876.8L606.5,876.4L608.2,876.5L609.9,876.3L611.6,876.2L613.3,876.3L615.0,875.4L616.7,875.9L618.4,875.4L620.1,875.3L621.8,875.3L623.5,875.2L625.2,874.7L626.9,874.5L628.6,874.8L630.3,873.4L632.0,874.3L633.7,874.2L635.4,873.6L637.1,874.0L638.8,874.0L640.0,873.8" stroke="#000" stroke-width="6.5"/>
<path d="M640.0,873.8C641.8,873.7 645.8,873.6 651.0,873.2C656.2,872.8 664.8,872.2 671.0,871.2C677.2,870.2 683.2,868.6 688.0,867.3C692.8,866.0 693.9,866.3 700.0,863.4C706.1,860.5 716.5,854.1 724.7,850.0C732.9,845.9 741.2,842.4 749.4,838.7C757.6,835.0 765.8,831.6 774.0,828.0C782.2,824.4 790.5,821.5 798.7,817.2C806.9,812.9 815.2,808.0 823.4,802.4C831.6,796.8 839.9,790.9 848.1,783.9C856.3,776.9 865.5,767.9 872.7,760.5C879.9,753.1 886.7,745.1 891.2,739.5C895.8,733.9 892.9,738.7 900.0,727.1C907.1,715.5 921.6,687.8 933.6,670.0C945.6,652.2 961.8,635.5 972.0,620.2C982.2,604.9 987.3,593.4 995.0,578.0C1002.7,562.6 1010.3,543.3 1018.0,528.0C1025.7,512.7 1033.3,500.1 1041.0,486.0C1048.7,471.9 1056.3,457.1 1064.0,443.6C1071.7,430.2 1080.6,414.9 1087.0,405.3C1093.4,395.7 1097.7,390.3 1102.5,386.0C1107.3,381.7 1111.5,379.5 1116.0,379.5C1120.5,379.5 1124.8,381.1 1129.3,386.0C1133.8,390.9 1138.6,399.4 1142.8,409.0C1147.0,418.6 1150.8,431.4 1154.3,443.6C1157.8,455.8 1160.4,467.3 1163.9,482.0C1167.4,496.7 1171.6,516.0 1175.4,532.0C1179.2,548.0 1183.2,563.9 1187.0,578.0C1190.8,592.1 1194.6,605.5 1198.4,616.4C1202.2,627.3 1205.5,635.0 1210.0,643.3C1214.5,651.6 1220.2,661.2 1225.3,666.3C1230.4,671.4 1234.3,672.6 1240.7,674.0C1247.1,675.4 1255.4,675.2 1263.7,674.7C1272.0,674.2 1282.9,670.8 1290.6,671.0C1298.3,671.2 1304.1,673.8 1309.8,675.9C1315.5,678.0 1319.6,681.7 1325.0,683.6C1330.4,685.5 1337.3,687.4 1342.4,687.4C1347.5,687.4 1352.3,685.2 1355.8,683.6C1359.3,682.0 1362.2,678.8 1363.5,677.8" stroke="#000" stroke-width="6.5"/>
<path d="M207.0,866.7C219.2,866.7 262.4,866.8 280.0,866.7C297.6,866.6 302.1,866.7 312.3,865.9C322.5,865.1 333.3,863.8 341.4,861.8C349.5,859.8 354.3,856.4 360.8,853.7C367.3,851.0 373.5,847.7 380.2,845.7C386.9,843.7 393.6,842.5 401.2,841.6C408.8,840.7 417.0,840.8 425.5,840.5C434.0,840.2 446.1,839.5 452.0,840.0C457.9,840.5 458.2,841.6 461.0,843.2C463.8,844.8 464.7,848.0 469.0,849.7C473.3,851.5 479.3,852.8 486.9,853.7C494.4,854.7 505.7,854.6 514.3,855.4C522.9,856.2 530.5,857.3 538.6,858.6C546.7,859.9 555.1,862.0 562.8,863.2C570.5,864.4 577.0,865.2 585.0,866.0C593.0,866.8 601.2,867.5 610.5,867.7C619.8,868.0 632.4,867.8 640.8,867.5C649.2,867.2 654.3,866.9 661.0,866.2C667.7,865.5 676.4,864.1 681.2,863.1C686.0,862.1 686.9,861.5 690.0,860.3C693.1,859.1 694.2,859.4 700.0,856.0C705.8,852.6 716.5,845.2 724.7,840.0C732.9,834.8 741.2,829.8 749.4,825.0C757.6,820.2 765.8,815.4 774.0,811.0C782.2,806.6 790.5,802.8 798.7,798.7C806.9,794.6 815.2,790.7 823.4,786.4C831.6,782.1 839.9,778.3 848.1,772.8C856.3,767.2 865.5,760.1 872.7,753.1C879.9,746.1 886.7,737.0 891.2,730.8C895.8,724.6 894.2,726.1 900.0,716.0C905.8,705.9 917.1,683.4 925.9,670.0C934.7,656.6 943.8,646.1 952.7,635.6C961.7,625.1 970.0,616.1 979.6,606.8C989.2,597.5 1002.0,586.7 1010.3,580.0C1018.6,573.3 1023.1,570.2 1029.5,566.5C1035.9,562.8 1042.3,562.2 1048.7,558.0C1055.1,553.8 1061.5,547.1 1067.9,541.5C1074.3,535.9 1081.2,529.2 1087.0,524.3C1092.8,519.4 1097.7,514.8 1102.5,512.0C1107.3,509.2 1111.5,507.7 1116.0,507.8C1120.5,507.9 1124.5,508.0 1129.3,512.7C1134.1,517.4 1139.6,526.2 1144.7,535.8C1149.8,545.4 1154.9,557.5 1160.0,570.3C1165.1,583.1 1170.3,598.5 1175.4,612.6C1180.5,626.7 1185.6,642.0 1190.7,654.8C1195.8,667.6 1200.9,680.3 1206.0,689.3C1211.1,698.2 1217.0,704.3 1221.5,708.5C1226.0,712.7 1229.8,714.3 1233.0,714.3C1236.2,714.3 1238.3,711.5 1240.7,708.5C1243.1,705.5 1245.0,696.5 1247.6,696.2C1250.1,695.9 1252.7,704.4 1256.0,706.6C1259.3,708.8 1257.3,709.1 1267.5,709.3C1277.7,709.5 1304.0,708.2 1317.4,707.8C1330.8,707.3 1340.3,707.4 1348.0,706.6C1355.7,705.8 1360.9,703.4 1363.5,702.8" stroke="#c4c4c4" stroke-width="6.5"/>
</g>
<ellipse cx="437.6" cy="851.3" rx="135" ry="68.8" fill="none" stroke="#858585" stroke-width="3.8"/>
<ellipse cx="1249" cy="692.5" rx="66" ry="70" fill="none" stroke="#858585" stroke-width="3.8"/>
<rect x="122.5" y="40" width="1817" height="1203" fill="none" stroke="#000" stroke-width="4.5"/>
<rect x="142" y="53" width="814" height="145" fill="#fff" stroke="#000" stroke-width="4"/>
<line x1="148" y1="90.7" x2="279" y2="90.7" stroke="#000" stroke-width="7.5"/>
<line x1="148" y1="159.6" x2="279" y2="159.6" stroke="#c4c4c4" stroke-width="7.5"/>
<text id="lg1" font-size="55.2" font-family="Liberation Sans, sans-serif" fill="#000" style="font-kerning:none"><tspan x="288.5" y="110.8">MK-NaOH </tspan><tspan x="562" y="110.8">washed</tspan></text>
<text id="lg2" font-size="55.2" font-family="Liberation Sans, sans-serif" fill="#000" style="font-kerning:none"><tspan x="288.5" y="179.8">MK-NaOH </tspan><tspan x="562" y="179.8">without </tspan><tspan x="749.5" y="179.8">washing</tspan></text>
<text x="352.45" y="990.5" font-size="52.4" text-anchor="middle" font-family="Liberation Sans, sans-serif" fill="#000" style="font-kerning:none">1500</text>
<text x="569.10" y="990.5" font-size="52.4" text-anchor="middle" font-family="Liberation Sans, sans-serif" fill="#000" style="font-kerning:none">1350</text>
<text x="785.75" y="990.5" font-size="52.4" text-anchor="middle" font-family="Liberation Sans, sans-serif" fill="#000" style="font-kerning:none">1200</text>
<text x="1002.20" y="990.5" font-size="52.4" text-anchor="middle" font-family="Liberation Sans, sans-serif" fill="#000" style="font-kerning:none">1050</text>
<text x="1218.90" y="990.5" font-size="52.4" text-anchor="middle" font-family="Liberation Sans, sans-serif" fill="#000" style="font-kerning:none">900</text>
<text font-size="53.2" font-family="Liberation Sans, sans-serif" fill="#000" style="font-kerning:none"><tspan x="537.1" y="1054.2">Wave </tspan><tspan x="685.4" y="1054.2">Number </tspan><tspan x="888.6" y="1054.2">[cm</tspan><tspan x="976.4" y="1033.8" font-size="30.5">-1</tspan><tspan x="1006.6" y="1054.2">]</tspan></text>
<text x="389.30" y="1312.5" font-size="64.7" text-anchor="middle" font-family="Liberation Sans, sans-serif" fill="#000" style="font-kerning:none">3500</text>
<text x="656.35" y="1312.5" font-size="64.7" text-anchor="middle" font-family="Liberation Sans, sans-serif" fill="#000" style="font-kerning:none">3000</text>
<text x="923.40" y="1312.5" font-size="64.7" text-anchor="middle" font-family="Liberation Sans, sans-serif" fill="#000" style="font-kerning:none">2500</text>
<text x="1191.30" y="1312.5" font-size="64.7" text-anchor="middle" font-family="Liberation Sans, sans-serif" fill="#000" style="font-kerning:none">2000</text>
<text x="1458.10" y="1312.5" font-size="64.7" text-anchor="middle" font-family="Liberation Sans, sans-serif" fill="#000" style="font-kerning:none">1500</text>
<text x="1725.70" y="1312.5" font-size="64.7" text-anchor="middle" font-family="Liberation Sans, sans-serif" fill="#000" style="font-kerning:none">1000</text>
<text font-size="65.9" font-family="Liberation Sans, sans-serif" fill="#000" style="font-kerning:none"><tspan x="725.2" y="1401.5">Wave </tspan><tspan x="908.3" y="1401.5">Number </tspan><tspan x="1158.2" y="1401.5">[cm</tspan><tspan x="1265" y="1375.2" font-size="41">-1</tspan><tspan x="1304" y="1401.5">]</tspan></text>
<text id="yl" transform="translate(84.3,640.6) rotate(-90)" font-size="64.6" text-anchor="middle" font-family="Liberation Sans, sans-serif" fill="#000" style="font-kerning:none">Absorbance</text>
</svg>
</body></html>
